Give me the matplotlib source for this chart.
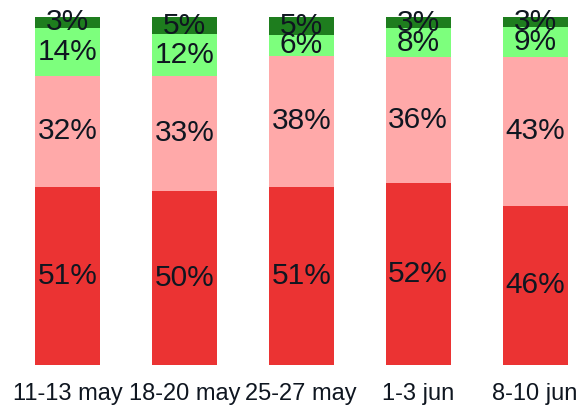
import matplotlib
matplotlib.use("Agg")
import matplotlib.pyplot as plt
import numpy as np

categories = ["11-13 may", "18-20 may", "25-27 may", "1-3 jun", "8-10 jun"]
red_vals = [51.2, 50.1, 51.2, 52.2, 45.8]
pink_vals = [31.8, 33.0, 37.6, 36.2, 42.6]
lgreen_vals = [13.9, 12.0, 6.1, 8.4, 8.8]
dgreen_vals = [3.1, 4.9, 5.1, 3.2, 2.8]

series = [red_vals, pink_vals, lgreen_vals, dgreen_vals]
colors = ["#EB3333", "#FFA9A9", "#7DFF7D", "#1E7D1E"]

plt.rcParams['font.family'] = ['Liberation Sans', 'DejaVu Sans']
txt_color = "#0F1620"

fig = plt.figure(figsize=(5.8, 4.05), dpi=100)
ax = fig.add_axes([0, (405 - 365) / 405, 1, (365 - 17) / 405])

x = np.arange(len(categories))
bottom = np.zeros(len(categories))
for vals, c in zip(series, colors):
    v = np.array(vals)
    ax.bar(x, v, bottom=bottom, width=0.556, color=c, edgecolor='none')
    for xi, b, h in zip(x, bottom, v):
        ax.text(xi, b + h / 2, f"{h:.0f}%", ha='center', va='center',
                fontsize=21.5, color=txt_color)
    bottom += v

spacing = 116.9
ax.set_xlim(-67.5 / spacing, (580 - 67.5) / spacing)
ax.set_ylim(0, 100)
ax.set_xticks(x)
ax.set_xticklabels(categories, fontsize=17, color=txt_color)
ax.tick_params(axis='x', length=0, pad=13)
ax.set_yticks([])
for s in ax.spines.values():
    s.set_visible(False)

fig.savefig("out.png", dpi=100, facecolor='white')
